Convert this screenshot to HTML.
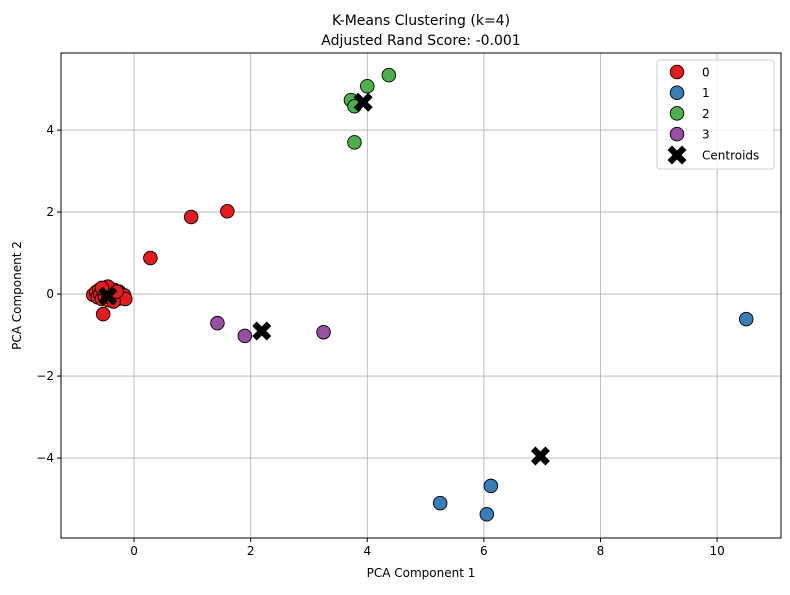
<!DOCTYPE html>
<html><head><meta charset="utf-8"><style>
body{margin:0;background:#fff;font-family:"Liberation Sans","DejaVu Sans",sans-serif;}
svg text{font-family:"DejaVu Sans","Liberation Sans",sans-serif;}
</style></head><body>
<svg id="c" width="790" height="590" xmlns="http://www.w3.org/2000/svg"></svg>
<script>
const clusterIds=[0,1,2,3];
const clusterColors=["#e41a1c","#377eb8","#4daf4a","#984ea3"];
const xs0=[-0.70,-0.65,-0.62,-0.60,-0.58,-0.55,-0.52,-0.50,-0.48,-0.46,-0.44,-0.42,-0.40,-0.38,-0.36,-0.34,-0.32,-0.30,-0.28,-0.26,-0.24,-0.22,-0.20,-0.17,-0.15,-0.45,-0.35,-0.55,-0.30,-0.53,0.28,0.98,1.60];
const ys0=[-0.02,0.05,-0.08,0.10,0.00,-0.12,0.12,-0.05,0.15,0.03,-0.15,0.08,-0.10,0.05,-0.02,0.10,-0.08,0.02,-0.12,0.06,-0.05,0.00,-0.10,-0.03,-0.12,0.18,-0.18,0.15,0.06,-0.49,0.88,1.88,2.02];
const xs1=[10.50,5.25,6.12,6.05];
const ys1=[-0.61,-5.10,-4.68,-5.37];
const xs2=[3.72,3.78,3.78,4.00,4.37];
const ys2=[4.73,4.58,3.70,5.07,5.34];
const xs3=[1.43,1.90,3.25];
const ys3=[-0.71,-1.02,-0.93];
const centroidX=[-0.45,6.97,3.93,2.19];
const centroidY=[-0.05,-3.95,4.68,-0.90];
const xTicks=[0,2,4,6,8,10];
const yTicks=[-4,-2,0,2,4];

const L=61,R=781,T=53,B=538;
const xMin=-1.253,xMax=11.096,yMin=-5.95,yMax=5.88;
const sx=v=>L+(v-xMin)/(xMax-xMin)*(R-L);
const sy=v=>B-(v-yMin)/(yMax-yMin)*(B-T);
const svg=document.getElementById('c');
const NS="http://www.w3.org/2000/svg";
function mk(tag,attrs,parent){const e=document.createElementNS(NS,tag);for(const k in attrs)e.setAttribute(k,attrs[k]);(parent||svg).appendChild(e);return e;}
function xMark(cx,cy,s,parent){const a=4.5,c=4.5;const p=`M${cx-s},${cy-s+a}L${cx-s+a},${cy-s}L${cx},${cy-c}L${cx+s-a},${cy-s}L${cx+s},${cy-s+a}L${cx+c},${cy}L${cx+s},${cy+s-a}L${cx+s-a},${cy+s}L${cx},${cy+c}L${cx-s+a},${cy+s}L${cx-s},${cy+s-a}L${cx-c},${cy}Z`;return mk('path',{d:p,fill:'#000'},parent);}

xTicks.forEach(t=>{const l=mk('line',{x1:sx(t),x2:sx(t),y1:T,y2:B,stroke:'#b0b0b0','stroke-width':0.8});


mk('line',{x1:sx(t),x2:sx(t),y1:B,y2:B+4,stroke:'#000'});
const tx=mk('text',{x:sx(t),y:B+17,'text-anchor':'middle','font-size':12});tx.textContent=t;

});
yTicks.forEach(t=>{const l=mk('line',{x1:L,x2:R,y1:sy(t),y2:sy(t),stroke:'#b0b0b0','stroke-width':0.8});


mk('line',{x1:L-4,x2:L,y1:sy(t),y2:sy(t),stroke:'#000'});
const tx=mk('text',{x:L-7,y:sy(t)+4,'text-anchor':'end','font-size':12});tx.textContent=t<0?'\u2212'+(-t):t;

});

const xsA=[xs0,xs1,xs2,xs3],ysA=[ys0,ys1,ys2,ys3];
xsA.forEach((xs,ci)=>xs.forEach((x,i)=>{const c=mk('circle',{cx:sx(x),cy:sy(ysA[ci][i]),r:6.8,fill:clusterColors[ci],stroke:'#000','stroke-width':0.9});

}));
centroidX.forEach((x,i)=>{const m=xMark(sx(x),sy(centroidY[i]),9.5);

});

const frame=mk('rect',{x:L,y:T,width:R-L,height:B-T,fill:'none',stroke:'#000','stroke-width':1});



const t1=mk('text',{x:(L+R)/2,y:25,'text-anchor':'middle','font-size':14});t1.textContent='K-Means Clustering (k=4)';


const t2=mk('text',{x:(L+R)/2,y:45,'text-anchor':'middle','font-size':14});t2.textContent='Adjusted Rand Score: -0.001';


const xl=mk('text',{x:(L+R)/2,y:577,'text-anchor':'middle','font-size':12});xl.textContent='PCA Component 1';


const yl=mk('text',{x:0,y:0,'text-anchor':'middle','font-size':12,transform:`translate(21,${(T+B)/2}) rotate(-90)`});yl.textContent='PCA Component 2';



const lg=mk('g',{});


mk('rect',{x:657,y:60,width:117,height:109,rx:3,fill:'#fff','fill-opacity':0.85,stroke:'#ccc'},lg);
clusterIds.forEach((id,i)=>{const y=72+i*20.7;
const c=mk('circle',{cx:677,cy:y,r:6.8,fill:clusterColors[i],stroke:'#000','stroke-width':0.9},lg);


const t=mk('text',{x:702,y:y+4.5,'font-size':12},lg);t.textContent=id;

});
const lm=xMark(677,155,9.5,lg);


const lt=mk('text',{x:702,y:159.5,'font-size':12},lg);lt.textContent='Centroids';


</script>
</body></html>
